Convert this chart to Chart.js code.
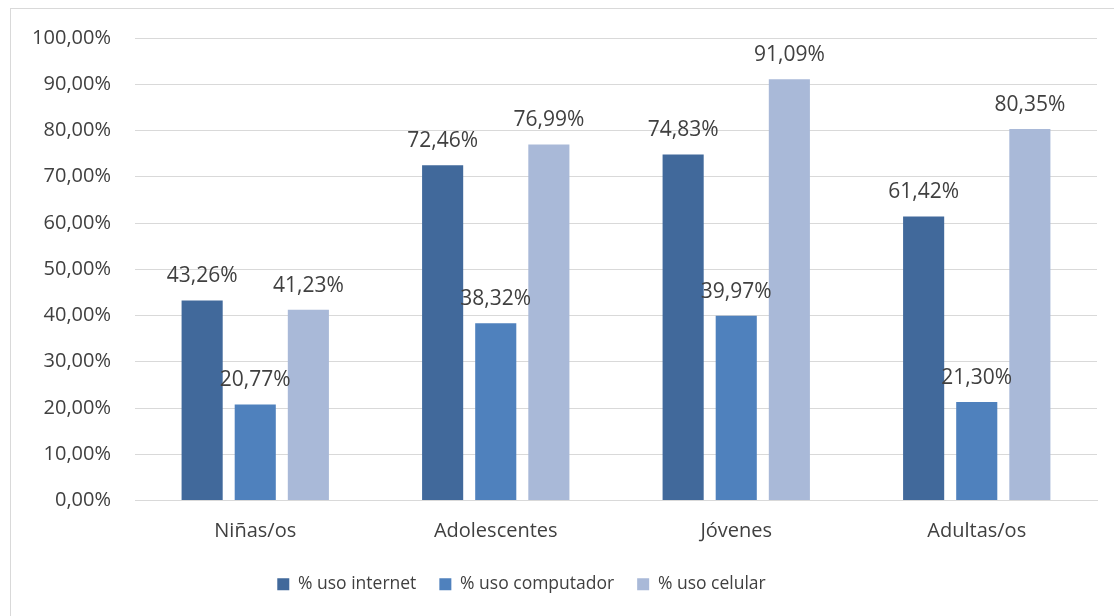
<!DOCTYPE html>
<html>
<head>
<meta charset="utf-8">
<script src="https://cdn.jsdelivr.net/npm/chart.js@4"></script>
<style>
  html, body { margin: 0; padding: 0; background: #fff; }
  #wrap { position: relative; width: 1114px; height: 616px; overflow: hidden; }
  #frame { position: absolute; left: 10px; top: 8px; width: 1120px; height: 640px; border: 1px solid #d9d9d9; }
  canvas { position: absolute; left: 0; top: 0; }
</style>
</head>
<body>
<div id="wrap">
  <div id="frame"></div>
  <canvas id="chart" width="1114" height="616"></canvas>
</div>
<script>
const categories = ['Niñas/os', 'Adolescentes', 'Jóvenes', 'Adultas/os'];
const usoInternet = [43.26, 72.46, 74.83, 61.42];
const usoComputador = [20.77, 38.32, 39.97, 21.30];
const usoCelular = [41.23, 76.99, 91.09, 80.35];
const seriesNames = ['% uso internet', '% uso computador', '% uso celular'];
const seriesColors = ['#41699b', '#4f81bd', '#a9b9d8'];

const fmt = v => v.toFixed(2).replace('.', ',') + '%';
const FONT = '"Open Sans", Lato, sans-serif';

// value labels above each bar
const barLabels = {
  id: 'barLabels',
  afterDatasetsDraw(chart) {
    const ctx = chart.ctx;
    ctx.save();
    ctx.font = '21px ' + FONT;
    ctx.fillStyle = '#404040';
    ctx.textAlign = 'center';
    ctx.textBaseline = 'middle';
    chart.data.datasets.forEach((ds, i) => {
      chart.getDatasetMeta(i).data.forEach((bar, j) => {
        ctx.fillText(fmt(ds.data[j]), bar.x, bar.y - 24);
      });
    });
    ctx.restore();
  }
};

// legend sits a little left of centre in the original
const legendShift = {
  id: 'legendShift',
  afterLayout(chart) {
    chart.legend.left -= 27;
    chart.legend.right -= 27;
  }
};

new Chart(document.getElementById('chart').getContext('2d'), {
  type: 'bar',
  data: {
    labels: categories,
    datasets: [usoInternet, usoComputador, usoCelular].map((d, i) => ({
      label: seriesNames[i],
      data: d,
      backgroundColor: seriesColors[i],
      barPercentage: 0.774,
      categoryPercentage: 0.6625
    }))
  },
  options: {
    responsive: false,
    animation: false,
    layout: { padding: { left: 0, right: 17, top: 38, bottom: 13 } },
    plugins: {
      legend: {
        position: 'bottom',
        labels: {
          boxWidth: 12,
          boxHeight: 12,
          padding: 23,
          color: '#404040',
          font: { family: FONT, size: 17.5 }
        }
      },
      tooltip: { enabled: false }
    },
    scales: {
      x: {
        grid: { display: false, drawTicks: false },
        border: { color: '#d9d9d9' },
        ticks: { color: '#404040', font: { family: FONT, size: 20 }, padding: 19 },
        afterFit: s => { s.height = 52; }
      },
      y: {
        min: 0,
        max: 100,
        ticks: {
          stepSize: 10,
          color: '#404040',
          font: { family: FONT, size: 20 },
          padding: 24,
          callback: v => fmt(v)
        },
        grid: { color: '#d9d9d9', drawTicks: false },
        border: { display: false },
        afterFit: s => { s.width = 135; }
      }
    }
  },
  plugins: [barLabels, legendShift]
});
</script>
</body>
</html>
